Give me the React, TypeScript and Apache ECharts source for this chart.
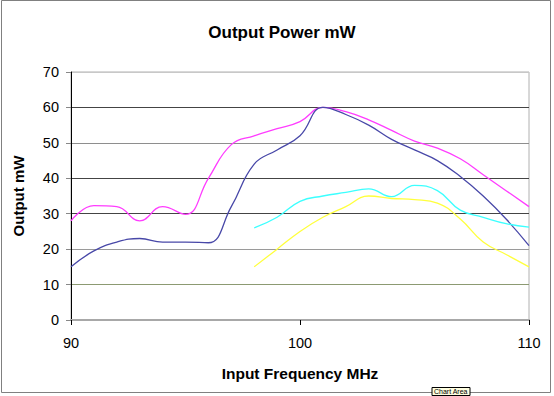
import React, { useEffect, useRef } from "react";
import * as echarts from "echarts";

const titleText = "Output Power mW";
const xAxisName = "Input Frequency MHz";
const yAxisName = "Output mW";

const freqsFull = [90, 91, 92, 93, 94, 95, 96, 97, 98, 99, 100, 101, 102, 103, 104, 105, 106, 107, 108, 109, 110];
const magentaValues = [28, 32.3, 32, 28, 32, 29.8, 40, 49.5, 52, 54, 56, 60, 58.8, 56.5, 53.5, 50.5, 48.5, 45.5, 41, 36.5, 32];
const blueValues = [15, 19.5, 22, 23, 22, 22, 21.8, 32, 44, 48, 52, 60, 58, 55, 51, 48, 45, 40.5, 35, 28.5, 21];

const freqsPart = [98, 99, 100, 101, 102, 103, 104, 105, 106, 107, 108, 109, 110];
const cyanValues = [26, 29, 33.5, 35, 36, 37, 34.8, 38, 36.5, 31, 29, 27.2, 26.2];
const yellowValues = [15, 20, 25, 29, 32, 35, 34.3, 34, 33, 28.5, 22, 18.5, 15];

const seriesColors = ["#ff3cff", "#4848a8", "#3cffff", "#ffff3c"];
const gridColors = ["#a8a8a8", "#8c9a72", "#9a9a9a", "#444444", "#444444", "#8e8e8e", "#444444", "#c8c8c8"];

const zip = (xs: number[], ys: number[]) => xs.map((x, i) => [x, ys[i]]);

export default function App() {
  const ref = useRef<HTMLDivElement>(null);
  useEffect(() => {
    if (!ref.current) return;
    const chart = echarts.init(ref.current, null, { renderer: "svg" });
    const font = "Arial, 'Liberation Sans', sans-serif";
    const mk = (name: string, data: number[][], color: string) => ({
      name,
      type: "line",
      data,
      smooth: 0.45,
      symbol: "none",
      lineStyle: { color, width: 1.3 },
      itemStyle: { color },
      z: 5,
    });
    chart.setOption({
      animation: false,
      backgroundColor: "#ffffff",
      textStyle: { fontFamily: font },
      title: {
        text: titleText,
        left: 277,
        top: 19,
        textAlign: "center",
        textStyle: { fontSize: 17, fontWeight: "bold", color: "#000", fontFamily: font },
      },
      grid: {
        left: 71,
        right: 25,
        top: 72,
        bottom: 76,
        show: true,
        borderColor: "#b0b0b0",
        borderWidth: 1,
        backgroundColor: "transparent",
      },
      xAxis: {
        type: "value",
        min: 90,
        max: 110,
        interval: 10,
        name: xAxisName,
        nameLocation: "middle",
        nameGap: 45,
        nameTextStyle: { fontSize: 15.5, fontWeight: "bold", color: "#000", fontFamily: font },
        axisLine: { show: true, onZero: false, lineStyle: { color: "#a8a8a8", width: 2 } },
        axisTick: { show: true, length: 5, lineStyle: { color: "#000" } },
        axisLabel: { fontSize: 14.5, color: "#000", margin: 15, fontFamily: font },
        splitLine: { show: false },
      },
      yAxis: {
        type: "value",
        min: 0,
        max: 70,
        interval: 10,
        name: yAxisName,
        nameLocation: "middle",
        nameGap: 45,
        nameTextStyle: { fontSize: 15, fontWeight: "bold", color: "#000", fontFamily: font },
        axisLine: { show: true, lineStyle: { color: "#000", width: 1 } },
        axisTick: { show: true, length: 5, lineStyle: { color: "#888" } },
        axisLabel: { fontSize: 14.5, color: "#000", margin: 12, fontFamily: font },
        splitLine: { show: true, lineStyle: { color: gridColors, width: 1 } },
      },
      graphic: [
        {
          type: "rect",
          shape: { x: 1.5, y: 0.5, width: 549, height: 392 },
          style: { fill: "none", stroke: "#808080", lineWidth: 1 },
          silent: true,
          z: 100,
        },
        {
          type: "rect",
          shape: { x: 432, y: 387.5, width: 38, height: 8 },
          style: { fill: "#ffffe1", stroke: "#000", lineWidth: 1 },
          silent: true,
          z: 101,
        },
        {
          type: "text",
          x: 434,
          y: 388,
          style: { text: "Chart Area", fontSize: 7, fill: "#000", fontFamily: font },
          silent: true,
          z: 102,
        },
      ],
      series: [
        mk("Magenta", zip(freqsFull, magentaValues), seriesColors[0]),
        mk("Blue", zip(freqsFull, blueValues), seriesColors[1]),
        mk("Cyan", zip(freqsPart, cyanValues), seriesColors[2]),
        mk("Yellow", zip(freqsPart, yellowValues), seriesColors[3]),
      ],
    });
    return () => chart.dispose();
  }, []);
  return <div ref={ref} style={{ position: "fixed", left: 0, top: 0, width: 554, height: 396 }} />;
}
